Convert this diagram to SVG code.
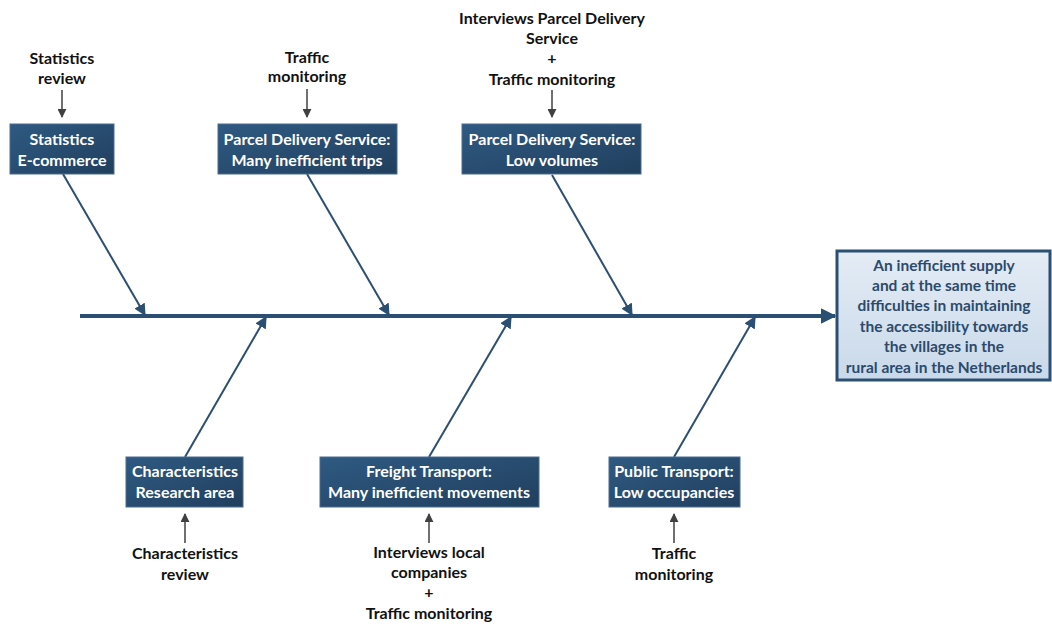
<svg xmlns="http://www.w3.org/2000/svg" width="1052" height="624" viewBox="0 0 1052 624">
<style>
.box{fill:url(#bg);stroke:#4a6d8f;stroke-width:1}
.bt{font-family:Lato,"Open Sans","Liberation Sans",sans-serif;font-weight:bold;font-size:16px;fill:#ffffff;text-anchor:middle}
.lt{font-family:Lato,"Open Sans","Liberation Sans",sans-serif;font-weight:bold;font-size:16px;fill:#111111;text-anchor:middle}
.et{font-family:Lato,"Open Sans","Liberation Sans",sans-serif;font-weight:bold;font-size:15.5px;fill:#2c4a6b;text-anchor:middle}
.bone{stroke:#2b4f73;stroke-width:2;fill:none;marker-end:url(#ab)}
.src{stroke:#404040;stroke-width:1.5;fill:none;marker-end:url(#ag)}
</style>
<defs>
<linearGradient id="bg" x1="0" y1="0" x2="1" y2="1">
<stop offset="0" stop-color="#2f5a82"/>
<stop offset="1" stop-color="#213f5e"/>
</linearGradient>
<linearGradient id="eg" x1="0" y1="0" x2="0" y2="1">
<stop offset="0" stop-color="#e4ecf5"/>
<stop offset="1" stop-color="#c9d9ea"/>
</linearGradient>
<marker id="ab" viewBox="0 0 10 10" refX="9" refY="5" markerWidth="6" markerHeight="6" orient="auto"><path d="M0,0 L10,5 L0,10 z" fill="#2b4f73"/></marker>
<marker id="ag" viewBox="0 0 10 10" refX="9" refY="5" markerWidth="6" markerHeight="6" orient="auto"><path d="M0,0 L10,5 L0,10 z" fill="#404040"/></marker>
<marker id="as" viewBox="0 0 10 10" refX="9" refY="5" markerWidth="4" markerHeight="4" orient="auto"><path d="M0,0 L10,5 L0,10 z" fill="#2b4f73"/></marker>
</defs>
<g id="connectors">
<line x1="80" y1="316" x2="835" y2="316" stroke="#2b4f73" stroke-width="4" marker-end="url(#as)"/>
<line class="bone" x1="63" y1="174" x2="145" y2="315"/>
<line class="bone" x1="307" y1="174" x2="389" y2="315"/>
<line class="bone" x1="552" y1="175" x2="632" y2="315"/>
<line class="bone" x1="185" y1="457" x2="266" y2="317"/>
<line class="bone" x1="429" y1="457" x2="511" y2="317"/>
<line class="bone" x1="674" y1="457" x2="755" y2="317"/>
<line class="src" x1="62" y1="90" x2="62" y2="117"/>
<line class="src" x1="307" y1="89" x2="307" y2="117"/>
<line class="src" x1="552" y1="90" x2="552" y2="117"/>
<line class="src" x1="185" y1="543" x2="185" y2="514"/>
<line class="src" x1="429" y1="543" x2="429" y2="514"/>
<line class="src" x1="674" y1="543" x2="674" y2="514"/>
</g>
<g id="effect">
<rect x="837" y="251" width="213" height="129" fill="url(#eg)" stroke="#2b4f73" stroke-width="3"/>
<text class="et" x="944" y="271">An inefficient supply</text>
<text class="et" x="944" y="291">and at the same time</text>
<text class="et" x="944" y="311">difficulties in maintaining</text>
<text class="et" x="944" y="332">the accessibility towards</text>
<text class="et" x="944" y="352">the villages in the</text>
<text class="et" x="944" y="373">rural area in the Netherlands</text>
</g>
<g id="statistics">
<rect class="box" x="10" y="124" width="104" height="50"/>
<text class="bt" x="62" y="145">Statistics</text>
<text class="bt" x="62" y="166">E-commerce</text>
</g>
<g id="pds-trips">
<rect class="box" x="218" y="124" width="179" height="50"/>
<text class="bt" x="307" y="145">Parcel Delivery Service:</text>
<text class="bt" x="307" y="166">Many inefficient trips</text>
</g>
<g id="pds-volumes">
<rect class="box" x="462" y="124" width="179" height="50"/>
<text class="bt" x="552" y="145">Parcel Delivery Service:</text>
<text class="bt" x="552" y="166">Low volumes</text>
</g>
<g id="characteristics">
<rect class="box" x="126" y="457" width="117" height="50"/>
<text class="bt" x="185" y="477">Characteristics</text>
<text class="bt" x="185" y="498">Research area</text>
</g>
<g id="freight">
<rect class="box" x="320" y="457" width="219" height="50"/>
<text class="bt" x="429" y="477">Freight Transport:</text>
<text class="bt" x="429" y="498">Many inefficient movements</text>
</g>
<g id="public">
<rect class="box" x="609" y="457" width="131" height="50"/>
<text class="bt" x="674" y="477">Public Transport:</text>
<text class="bt" x="674" y="498">Low occupancies</text>
</g>
<g id="src-statistics">
<text class="lt" x="62" y="64">Statistics</text>
<text class="lt" x="62" y="84">review</text>
</g>
<g id="src-traffic1">
<text class="lt" x="307" y="63">Traffic</text>
<text class="lt" x="307" y="82">monitoring</text>
</g>
<g id="src-interviews-pds">
<text class="lt" x="552" y="24">Interviews Parcel Delivery</text>
<text class="lt" x="552" y="44">Service</text>
<text class="lt" x="552" y="64">+</text>
<text class="lt" x="552" y="85">Traffic monitoring</text>
</g>
<g id="src-characteristics">
<text class="lt" x="185" y="559">Characteristics</text>
<text class="lt" x="185" y="580">review</text>
</g>
<g id="src-interviews-local">
<text class="lt" x="429" y="558">Interviews local</text>
<text class="lt" x="429" y="578">companies</text>
<text class="lt" x="429" y="598">+</text>
<text class="lt" x="429" y="619">Traffic monitoring</text>
</g>
<g id="src-traffic2">
<text class="lt" x="674" y="559">Traffic</text>
<text class="lt" x="674" y="580">monitoring</text>
</g>
</svg>
